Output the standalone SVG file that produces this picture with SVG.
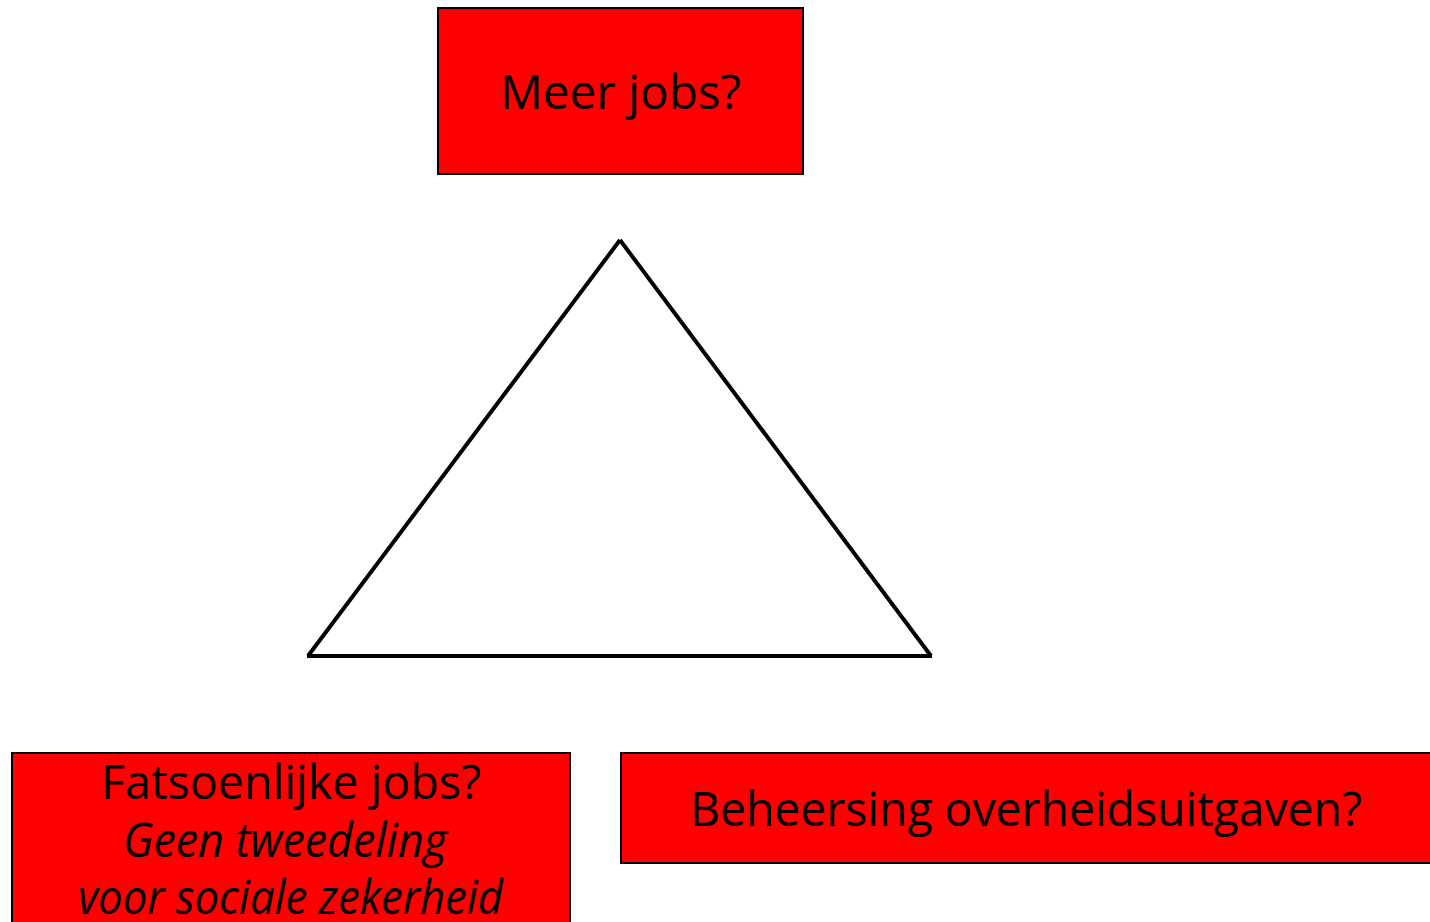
<svg xmlns="http://www.w3.org/2000/svg" width="1430" height="922" viewBox="0 0 1430 922">
  <style>
    .box { fill: #ff0000; stroke: #000000; stroke-width: 2; }
    .lbl { font-family: "Open Sans", "Noto Sans", "Liberation Sans", sans-serif; font-size: 47px; fill: #000000; text-anchor: middle; }
    .it { font-style: italic; }
    .edge { stroke: #000000; stroke-width: 4; stroke-linecap: butt; fill: none; }
  </style>
  <rect width="1430" height="922" fill="#ffffff"/>
  <g id="connectors">
    <line class="edge" x1="620" y1="240" x2="308" y2="656"/>
    <line class="edge" x1="620" y1="240" x2="931" y2="656"/>
    <line class="edge" x1="307" y1="656" x2="932" y2="656" stroke-width="5"/>
  </g>
  <g id="node-meer-jobs">
    <rect class="box" x="438" y="8" width="365" height="166"/>
    <text class="lbl" x="620.5" y="109" textLength="241" lengthAdjust="spacingAndGlyphs">Meer jobs?</text>
  </g>
  <g id="node-fatsoenlijke-jobs">
    <rect class="box" x="12" y="753" width="558" height="190"/>
    <text class="lbl" x="291" y="799" textLength="380" lengthAdjust="spacingAndGlyphs">Fatsoenlijke jobs?</text>
    <text class="lbl it" x="285" y="857" textLength="324" lengthAdjust="spacingAndGlyphs">Geen tweedeling</text>
    <text class="lbl it" x="290.5" y="914" textLength="425" lengthAdjust="spacingAndGlyphs">voor sociale zekerheid</text>
  </g>
  <g id="node-beheersing">
    <rect class="box" x="621" y="753" width="830" height="110"/>
    <text class="lbl" x="1026" y="826" textLength="672" lengthAdjust="spacingAndGlyphs">Beheersing overheidsuitgaven?</text>
  </g>
</svg>
